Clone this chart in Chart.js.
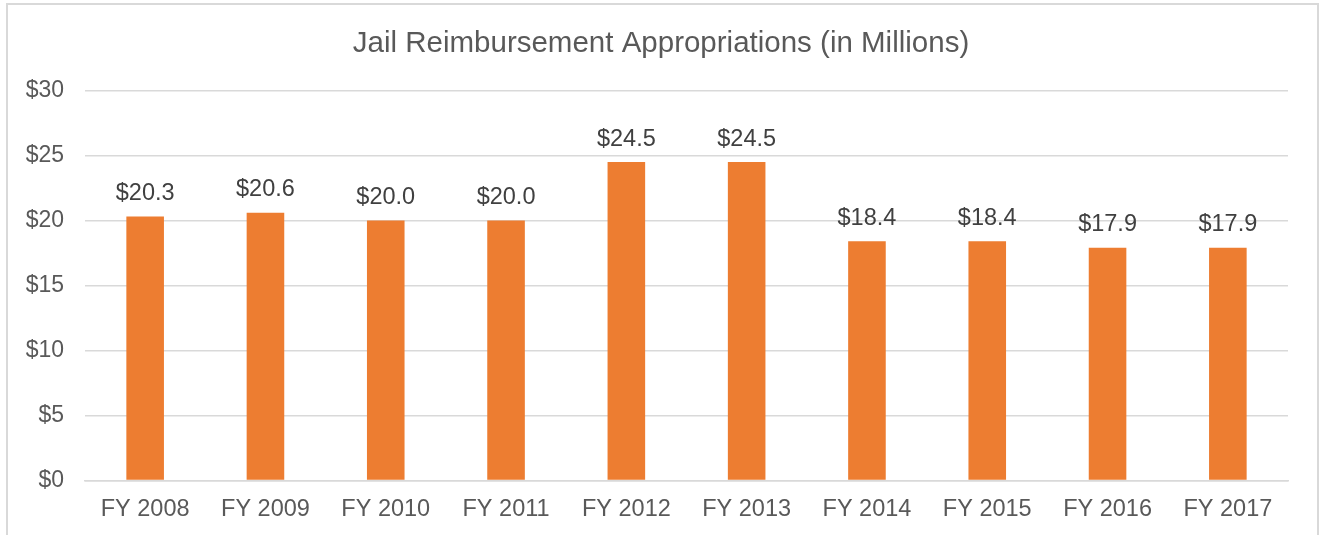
<!DOCTYPE html>
<html>
<head>
<meta charset="utf-8">
<script src="https://cdn.jsdelivr.net/npm/chart.js@4"></script>
<style>
  html, body { margin: 0; padding: 0; background: #fff; overflow: hidden; }
  #frame { position: absolute; left: 6px; top: 3px; width: 1309px; height: 600px; border: 2px solid #d9d9d9; }
  #wrap { position: absolute; left: 0; top: 0; width: 1320px; height: 535px; }
</style>
</head>
<body>
<div id="frame"></div>
<div id="wrap"><canvas id="myChart" width="1320" height="535"></canvas></div>
<script>
// données
const years = ['FY 2008', 'FY 2009', 'FY 2010', 'FY 2011', 'FY 2012', 'FY 2013', 'FY 2014', 'FY 2015', 'FY 2016', 'FY 2017'];
const amounts = [20.3, 20.6, 20.0, 20.0, 24.5, 24.5, 18.4, 18.4, 17.9, 17.9];
const yTicks = [0, 5, 10, 15, 20, 25, 30];
const chartTitle = 'Jail Reimbursement Appropriations (in Millions)';

const FONT = '"Liberation Sans", Arial, sans-serif';

// titre centré sur toute la largeur + étiquettes au-dessus des barres
const barLabels = {
    id: 'barLabels',
    afterDatasetsDraw(chart) {
        const ctx = chart.ctx;
        const meta = chart.getDatasetMeta(0);
        ctx.save();
        ctx.textAlign = 'center';
        ctx.textBaseline = 'alphabetic';

        ctx.font = '29.5px ' + FONT;
        ctx.fillStyle = '#595959';
        ctx.fillText(chartTitle, chart.width / 2 + 1, 52);

        ctx.font = '23.5px ' + FONT;
        ctx.fillStyle = '#404040';
        meta.data.forEach(function(bar, i) {
            ctx.fillText('$' + amounts[i].toFixed(1), bar.x, bar.y - 16.5);
        });
        ctx.restore();
    }
};

const ctx = document.getElementById('myChart').getContext('2d');
new Chart(ctx, {
    type: 'bar',
    data: {
        labels: years,
        datasets: [{
            data: amounts,
            backgroundColor: '#ed7d31',
            categoryPercentage: 1,
            barPercentage: 0.3125
        }]
    },
    options: {
        responsive: false,
        animation: false,
        layout: { padding: { left: 0, right: 32, top: 90.5, bottom: 0 } },
        plugins: {
            legend: { display: false },
            tooltip: { enabled: false },
            title: { display: false }
        },
        scales: {
            x: {
                grid: { display: false },
                border: { color: '#d9d9d9', width: 1.5 },
                ticks: {
                    color: '#595959',
                    font: { family: FONT, size: 23.5 },
                    padding: 7
                },
                afterFit: function(s) { s.height = 54.5; }
            },
            y: {
                min: 0,
                max: 30,
                afterBuildTicks: function(s) { s.ticks = yTicks.map(v => ({ value: v })); },
                grid: { color: '#d9d9d9', lineWidth: 1.5, drawTicks: false },
                border: { display: false },
                ticks: {
                    color: '#595959',
                    font: { family: FONT, size: 23 },
                    padding: 21,
                    callback: v => '$' + v
                },
                afterFit: function(s) { s.width = 85; }
            }
        }
    },
    plugins: [barLabels]
});
</script>
</body>
</html>
